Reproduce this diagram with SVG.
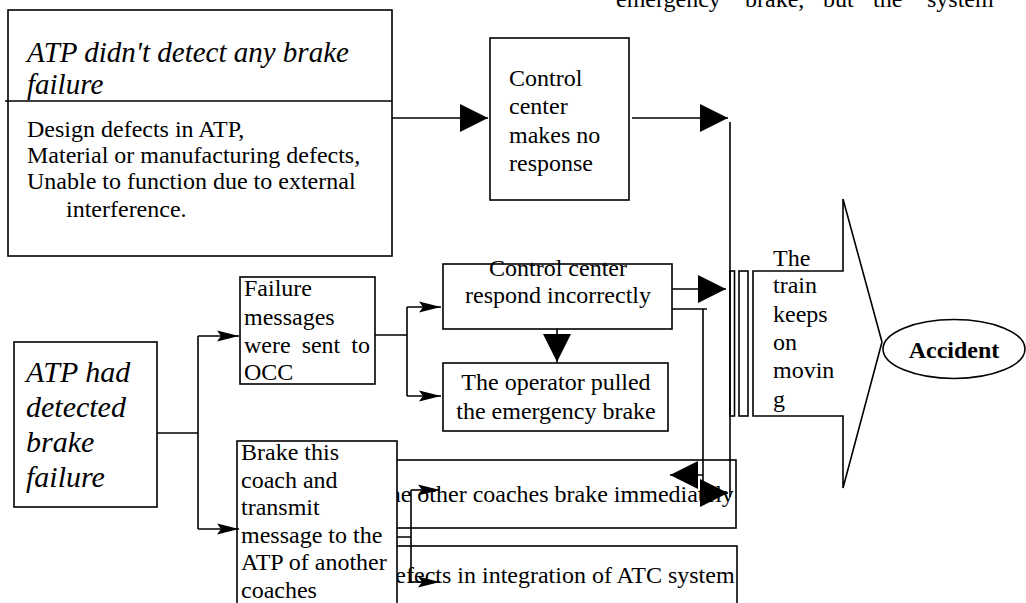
<svg xmlns="http://www.w3.org/2000/svg" width="1026" height="603" viewBox="0 0 1026 603">
<style>
.box{fill:#fff;stroke:#000;stroke-width:1.6}
.ln{fill:none;stroke:#000;stroke-width:1.6}
.t{font-family:"Liberation Serif","Times New Roman",serif;font-size:24px;fill:#000}
.ti{font-family:"Liberation Serif","Times New Roman",serif;font-style:italic;fill:#000}
.c{text-anchor:middle}
</style>
<defs>
<marker id="big" markerUnits="userSpaceOnUse" markerWidth="28" markerHeight="28" refX="28" refY="14" orient="auto"><path d="M0,0 L28,14 L0,28 z" fill="#000"/></marker>
<marker id="small" markerUnits="userSpaceOnUse" markerWidth="22" markerHeight="12" refX="22" refY="6" orient="auto"><path d="M0,0.5 L22,6 L0,11.5 L4,6 z" fill="#000"/></marker>
</defs>
<rect width="1026" height="603" fill="#fff"/>
<text class="t"><tspan x="616" y="7">emergency</tspan><tspan x="745" y="7">brake,</tspan><tspan x="823" y="7">but</tspan><tspan x="873" y="7">the</tspan><tspan x="927" y="7">system</tspan></text>

<g id="node-atp-no-detect">
<rect class="box" x="8" y="10" width="384" height="246"/>
<line class="ln" x1="5" y1="101" x2="392" y2="101"/>
<text class="ti" font-size="29"><tspan x="27" y="62">ATP didn't detect any brake</tspan><tspan x="27" y="94">failure</tspan></text>
<text class="t"><tspan x="27" y="137">Design defects in ATP,</tspan><tspan x="27" y="163">Material or manufacturing defects,</tspan><tspan x="27" y="189">Unable to function due to external</tspan><tspan x="66" y="217">interference.</tspan></text>
</g>

<g id="node-no-response">
<rect class="box" x="490" y="38" width="139" height="162"/>
<text class="t"><tspan x="509" y="86">Control</tspan><tspan x="509" y="114">center</tspan><tspan x="509" y="143">makes no</tspan><tspan x="509" y="171">response</tspan></text>
</g>

<g id="node-atp-detected">
<rect class="box" x="14" y="342" width="143" height="165"/>
<text class="ti" font-size="30"><tspan x="26" y="382">ATP had</tspan><tspan x="26" y="417">detected</tspan><tspan x="26" y="452">brake</tspan><tspan x="26" y="487">failure</tspan></text>
</g>

<g id="node-failure-messages">
<rect class="box" x="240" y="277" width="135" height="107"/>
<text class="t"><tspan x="244" y="296">Failure</tspan><tspan x="244" y="325">messages</tspan><tspan x="244" y="353" word-spacing="5">were sent to</tspan><tspan x="244" y="380">OCC</tspan></text>
</g>

<g id="node-respond-incorrectly">
<rect class="box" x="443" y="264" width="229" height="65"/>
<text class="t c"><tspan x="558" y="276">Control center</tspan><tspan x="558" y="303">respond incorrectly</tspan></text>
</g>

<g id="node-operator">
<rect class="box" x="443" y="363" width="225" height="68"/>
<text class="t c"><tspan x="556" y="390">The operator pulled</tspan><tspan x="556" y="419">the emergency brake</tspan></text>
</g>

<g id="node-other-coaches">
<rect class="box" x="300" y="460" width="436" height="68"/>
<text class="t" x="374" y="502">The other coaches brake immediately</text>
</g>

<g id="node-defects">
<rect class="box" x="300" y="546" width="437" height="80"/>
<text class="t" x="378" y="583">Defects in integration of ATC system</text>
</g>

<g id="node-brake-coach">
<rect class="box" x="237" y="441" width="160" height="180"/>
<text class="t"><tspan x="241" y="460">Brake this</tspan><tspan x="241" y="488">coach and</tspan><tspan x="241" y="515">transmit</tspan><tspan x="241" y="543">message to the</tspan><tspan x="241" y="570">ATP of another</tspan><tspan x="241" y="598">coaches</tspan></text>
</g>

<g id="node-train-moving">
<rect class="box" x="730" y="271" width="4.5" height="145"/>
<rect class="box" x="739" y="271" width="9" height="145"/>
<polygon class="box" points="753,271 843,271 843,199 882,342 843,488 843,416 753,416"/>
<text class="t"><tspan x="773" y="266">The</tspan><tspan x="773" y="293">train</tspan><tspan x="773" y="322">keeps</tspan><tspan x="773" y="350">on</tspan><tspan x="773" y="378">movin</tspan><tspan x="773" y="407">g</tspan></text>
</g>

<g id="node-accident">
<ellipse class="box" cx="954" cy="349" rx="71" ry="29.5"/>
<text class="t c" x="954" y="358" font-size="26" font-weight="bold">Accident</text>
</g>

<g id="connectors">
<line class="ln" x1="392" y1="118" x2="488" y2="118" marker-end="url(#big)"/>
<line class="ln" x1="632" y1="118" x2="728" y2="118" marker-end="url(#big)"/>
<line class="ln" x1="730" y1="122" x2="730" y2="497"/>
<line class="ln" x1="672" y1="289" x2="726" y2="289" marker-end="url(#big)"/>
<line class="ln" x1="557" y1="329" x2="557" y2="362" marker-end="url(#big)"/>
<path class="ln" d="M672,309 H707 M703,309 V490"/>
<line class="ln" x1="703" y1="475" x2="670" y2="475" marker-end="url(#big)"/>
<line class="ln" x1="700" y1="493" x2="728" y2="493" marker-end="url(#big)"/>
<path class="ln" d="M375,335 H407 M407,307 V396"/>
<line class="ln" x1="407" y1="307" x2="441" y2="307" marker-end="url(#small)"/>
<line class="ln" x1="407" y1="396" x2="441" y2="396" marker-end="url(#small)"/>
<path class="ln" d="M157,433 H198 M198,336 V529"/>
<line class="ln" x1="198" y1="336" x2="239" y2="336" marker-end="url(#small)"/>
<line class="ln" x1="198" y1="529" x2="239" y2="529" marker-end="url(#small)"/>
<path class="ln" d="M397,537 H411 M411,490 V582"/>
<line class="ln" x1="411" y1="490" x2="440" y2="490" marker-end="url(#small)"/>
<line class="ln" x1="411" y1="582" x2="440" y2="582" marker-end="url(#small)"/>
</g>
</svg>
